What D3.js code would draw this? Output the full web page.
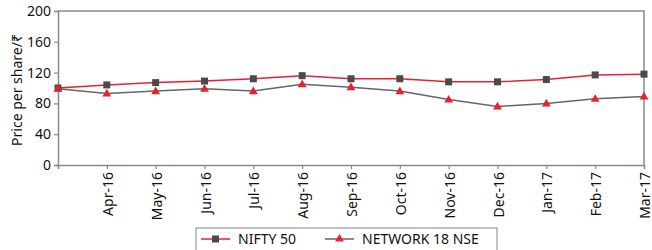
<!DOCTYPE html>
<html>
<head>
<meta charset="utf-8">
<script src="https://cdn.jsdelivr.net/npm/d3@7"></script>
<style>
  body { margin: 0; background: #fff; }
  svg { display: block; font-family: 'Noto Sans', sans-serif; }
</style>
</head>
<body>
<div id="chart"></div>
<script>
const months = ['Mar-16', 'Apr-16', 'May-16', 'Jun-16', 'Jul-16', 'Aug-16', 'Sep-16', 'Oct-16', 'Nov-16', 'Dec-16', 'Jan-17', 'Feb-17', 'Mar-17']
const tickLabels = ['', 'Apr-16', 'May-16', 'Jun-16', 'Jul-16', 'Aug-16', 'Sep-16', 'Oct-16', 'Nov-16', 'Dec-16', 'Jan-17', 'Feb-17', 'Mar-17']
const nifty = [100, 104, 107, 109, 112, 116, 112, 112, 108, 108, 111, 117, 118]
const network = [99, 93, 96, 99, 96, 105, 101, 96, 85, 76, 80, 86, 89]
const yTicks = [0, 40, 80, 120, 160, 200]

const width = 652
const height = 250
const margin = { top: 11, left: 58, bottom: 85, right: 8 }
const innerW = width - margin.left - margin.right
const innerH = height - margin.top - margin.bottom

const red = '#e8202f'
const grey = '#4a4a4a'
const axisGrey = '#8a8a8a'

const svg = d3.select('#chart').append('svg')
  .attr('width', width)
  .attr('height', height)

const x = d3.scalePoint().domain(months).range([0, innerW])
const y = d3.scaleLinear().domain([0, 200]).range([innerH, 0])

const g = svg.append('g')
  .attr('transform', 'translate(' + margin.left + ',' + margin.top + ')')

// frame
g.append('path')
  .attr('d', 'M0,0H' + innerW + 'V' + innerH)
  .attr('fill', 'none')
  .attr('stroke', axisGrey)
  .attr('stroke-width', 1.5)

const yAxis = d3.axisLeft(y).tickValues(yTicks).tickSizeOuter(0).tickSize(4)
g.append('g').call(yAxis)
  .call(a => a.select('.domain').attr('stroke', axisGrey).attr('stroke-width', 1.5))
  .call(a => a.selectAll('.tick line').attr('stroke', axisGrey).attr('stroke-width', 1.2))
  .call(a => a.selectAll('.tick text').attr('font-size', 14).attr('fill', '#111')
    .attr('font-family', "'Noto Sans', sans-serif").attr('x', -7))

const xAxis = d3.axisBottom(x).tickSizeOuter(0).tickSize(4)
  .tickFormat((d, i) => tickLabels[i])
g.append('g').attr('transform', 'translate(0,' + innerH + ')').call(xAxis)
  .call(a => a.select('.domain').attr('stroke', axisGrey).attr('stroke-width', 1.5))
  .call(a => a.selectAll('.tick line').attr('stroke', axisGrey).attr('stroke-width', 1.2))
  .call(a => a.selectAll('.tick text')
    .attr('font-size', 14).attr('fill', '#111')
    .attr('font-family', "'Noto Sans', sans-serif")
    .attr('transform', 'rotate(-90)')
    .attr('text-anchor', 'end')
    .attr('x', -7).attr('y', 0).attr('dy', '0.4em')
    .attr('dx', 0))

svg.append('text')
  .attr('transform', 'translate(22,' + 90 + ') rotate(-90)')
  .attr('text-anchor', 'middle')
  .attr('font-size', 14)
  .attr('fill', '#111')
  .text('Price per share/₹')

const line = d3.line().x((d, i) => x(months[i])).y(d => y(d))

g.append('path').datum(network).attr('d', line)
  .attr('fill', 'none').attr('stroke', '#666').attr('stroke-width', 1.5)
g.append('path').datum(nifty).attr('d', line)
  .attr('fill', 'none').attr('stroke', red).attr('stroke-width', 1.5)

const tri = d3.symbol().type(d3.symbolTriangle).size(34)

g.selectAll('.sq').data(nifty).join('rect')
  .attr('x', (d, i) => x(months[i]) - 3.5)
  .attr('y', d => y(d) - 3.5)
  .attr('width', 7).attr('height', 7)
  .attr('fill', grey)

g.selectAll('.tri').data(network).join('path')
  .attr('transform', (d, i) => 'translate(' + x(months[i]) + ',' + (y(d) + 0.5) + ')')
  .attr('d', tri)
  .attr('fill', red)

// legend
const lg = svg.append('g').attr('transform', 'translate(196,228)')
lg.append('rect').attr('x', 0).attr('y', 0).attr('width', 301).attr('height', 30)
  .attr('fill', '#fff').attr('stroke', '#999').attr('stroke-width', 1.2)

const items = [
  { name: 'NIFTY 50', x0: 5, lineColor: red, marker: 'square' },
  { name: 'NETWORK 18 NSE', x0: 129, lineColor: '#666', marker: 'triangle' }
]
items.forEach(it => {
  const ig = lg.append('g').attr('transform', 'translate(' + it.x0 + ',11)')
  ig.append('line').attr('x1', 0).attr('x2', 29).attr('stroke', it.lineColor).attr('stroke-width', 1.5)
  if (it.marker === 'square') {
    ig.append('rect').attr('x', 11).attr('y', -3.5).attr('width', 7).attr('height', 7).attr('fill', grey)
  } else {
    ig.append('path').attr('transform', 'translate(14.5,0)').attr('d', tri).attr('fill', red)
  }
  ig.append('text').attr('x', 37).attr('y', 5).attr('font-size', 14).attr('fill', '#111').text(it.name)
})
</script>
</body>
</html>
